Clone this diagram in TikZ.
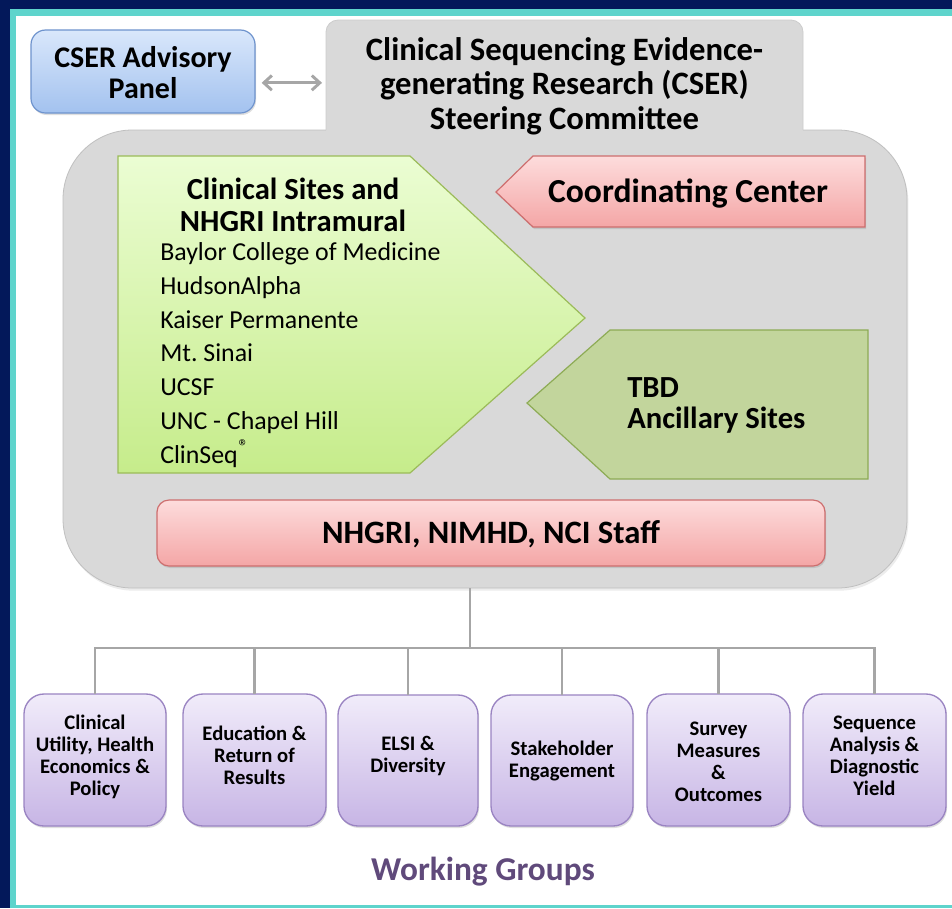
\documentclass[tikz,border=0pt]{standalone}
\usepackage{fontspec}
\setmainfont{Carlito}
\usetikzlibrary{fit,shadows,arrows.meta}
\frenchspacing

\definecolor{navy}{HTML}{03185A}
\definecolor{tealline}{HTML}{5ED4CC}
\definecolor{panelgrey}{HTML}{D9D9D9}
\definecolor{bluetop}{HTML}{D9E7FB}
\definecolor{bluebot}{HTML}{A3C2EF}
\definecolor{blueedge}{HTML}{6E93CD}
\definecolor{greentop}{HTML}{EBFDD3}
\definecolor{greenbot}{HTML}{C6EC8B}
\definecolor{greenedge}{HTML}{9BBB59}
\definecolor{pinktop}{HTML}{FDDCDC}
\definecolor{pinkbot}{HTML}{F4A6A6}
\definecolor{pinkedge}{HTML}{CD6E6E}
\definecolor{olivefill}{HTML}{C2D59C}
\definecolor{oliveedge}{HTML}{8DAB55}
\definecolor{lilactop}{HTML}{F1ECFA}
\definecolor{lilacbot}{HTML}{C7B5E5}
\definecolor{lilacedge}{HTML}{9A84C2}
\definecolor{linkgrey}{HTML}{A6A6A6}
\definecolor{wgpurple}{HTML}{604A7B}

\tikzset{
  frame/.style={fit={#1}, inner sep=0pt, outer sep=0pt},
  label text/.style={align=center, inner sep=0pt},
  softshadow/.style={drop shadow={opacity=0.25, shadow xshift=0.8pt, shadow yshift=-1.5pt}},
  advbox/.style={rounded corners=11pt, top color=bluetop, bottom color=bluebot,
    draw=blueedge, line width=0.9pt, softshadow},
  steerbox/.style={rounded corners=9pt, fill=panelgrey},
  steeredge/.style={draw=gray!40, line width=0.6pt, rounded corners=9pt},
  panelbox/.style={rounded corners=52pt, fill=panelgrey, draw=gray!50, line width=0.6pt,
    drop shadow={opacity=0.15, shadow xshift=1pt, shadow yshift=-2pt}},
  greenshape/.style={top color=greentop, bottom color=greenbot, draw=greenedge, line width=0.9pt},
  pinkshape/.style={top color=pinktop, bottom color=pinkbot, draw=pinkedge, line width=0.9pt, softshadow},
  oliveshape/.style={fill=olivefill, draw=oliveedge, line width=0.9pt},
  staffbox/.style={rounded corners=9pt, top color=pinktop, bottom color=pinkbot,
    draw=pinkedge, line width=0.9pt, softshadow},
  wgbox/.style={rounded corners=15pt, top color=lilactop, bottom color=lilacbot,
    draw=lilacedge, line width=1pt, softshadow},
  wgtext/.style={label text, font=\bfseries\fontsize{15.5}{16.5}\selectfont},
  conn/.style={draw=linkgrey, line width=2.2pt},
  sitetext/.style={anchor=west, inner sep=0pt, font=\fontsize{19.4}{22}\selectfont,
    text height=0.7em, text depth=0.2em},
}

\begin{document}
\begin{tikzpicture}[x=0.75pt, y=-0.75pt]
  \useasboundingbox (0,0) rectangle (952,908);

  % slide frame
  \fill[navy] (0,0) rectangle (952,908);
  \fill[tealline] (10,9) rectangle (952,908);
  \fill[white] (16,16) rectangle (952,905);

  % the grey programme panel and the steering committee tab above it
  \node[frame={(63,130)(907,588)}, panelbox] (panel) {};
  \node[frame={(326,20)(803,149)}, steerbox] (steer) {};
  \draw[steeredge] (steer.west |- panel.north) -- (steer.north west)
    -- (steer.north east) -- (steer.east |- panel.north);
  \node[label text, font=\bfseries\fontsize{24.5}{25.9}\selectfont] (steertext) at (564.5,86)
    {Clinical Sequencing Evidence-\\generating Research (CSER)\\Steering Committee};

  % advisory panel
  \node[frame={(31,30)(255,113)}, advbox] (adv) {};
  \node[label text, font=\bfseries\fontsize{22.5}{23.25}\selectfont] (advtext) at (143,73)
    {CSER Advisory\\Panel};
  \draw[conn, {Straight Barb[length=6pt,width=11pt]}-{Straight Barb[length=6pt,width=11pt]}]
    ([xshift=5pt,yshift=-8.5pt]adv.east) -- ([xshift=-3pt,yshift=-8.5pt]adv.east -| steer.west);

  % clinical sites (arrow pointing right)
  \path[greenshape] (118,156) -- (410,156) -- (585,318) -- (410,473) -- (118,473) -- cycle;
  \node[label text, font=\bfseries\fontsize{23}{24}\selectfont] (sites) at (293,205)
    {Clinical Sites and\\NHGRI Intramural};
  \foreach \name [count=\i from 0] in {Baylor College of Medicine, HudsonAlpha,
      Kaiser Permanente, Mt. Sinai, UCSF, UNC - Chapel Hill,
      ClinSeq\textsuperscript{\kern0.5pt\fontsize{15}{15}\selectfont®}} {
    \node[sitetext] (site\i) at (160,{257+33.83*\i}) {\name};
  }

  % coordinating centre (arrow pointing left)
  \path[pinkshape] (496,192) -- (533,156) -- (865,156) -- (865,227) -- (533,227) -- cycle;
  \node[font=\bfseries\fontsize{25.2}{28}\selectfont] (cc) at (688,194) {Coordinating Center};

  % ancillary sites (arrow pointing left)
  \path[oliveshape] (527,403) -- (610,330) -- (868,330) -- (868,479) -- (610,479) -- cycle;
  \node[anchor=west, align=left, inner sep=0pt, font=\bfseries\fontsize{23}{23.25}\selectfont]
    (tbd) at (627,405) {TBD\\Ancillary Sites};

  % institute staff
  \node[frame={(157,500)(825,566)}, staffbox] (staff) {};
  \node[label text, font=\bfseries\fontsize{24.5}{26}\selectfont] (stafftext) at (491,534)
    {NHGRI, NIMHD, NCI Staff};

  % working groups
  \node[frame={(24,694)(166,826)}, wgbox] (wg1) {};
  \node[frame={(183,694)(326,826)}, wgbox] (wg2) {};
  \node[frame={(338,695)(478,826)}, wgbox] (wg3) {};
  \node[frame={(491,695)(633,826)}, wgbox] (wg4) {};
  \node[frame={(647,694)(790,826)}, wgbox] (wg5) {};
  \node[frame={(803,694)(946,826)}, wgbox] (wg6) {};
  \node[wgtext] (wgt1) at ([yshift=2.6pt]wg1.center) {Clinical\\Utility, Health\\Economics \&\\Policy};
  \node[wgtext] (wgt2) at ([yshift=3.4pt]wg2.center) {Education \&\\Return of\\Results};
  \node[wgtext] (wgt3) at ([yshift=3.4pt]wg3.center) {ELSI \&\\Diversity};
  \node[wgtext] (wgt4) at ([yshift=-0.4pt]wg4.center) {Stakeholder\\Engagement};
  \node[wgtext] (wgt5) at ([yshift=-1.5pt]wg5.center) {Survey\\Measures\\\&\\Outcomes};
  \node[wgtext] (wgt6) at ([yshift=3pt]wg6.center) {Sequence\\Analysis \&\\Diagnostic\\Yield};

  % tree from the panel down to the working groups
  \coordinate (hub) at (470,648);
  \draw[conn] (hub |- panel.south) -- (hub);
  \draw[conn, line cap=rect] (wg1.north |- hub) -- (wg6.north |- hub);
  \foreach \k in {1,...,6} {
    \draw[conn] (wg\k.north |- hub) -- (wg\k.north);
  }

  \node[text=wgpurple, font=\bfseries\fontsize{25}{28}\selectfont] (wgtitle) at (483,872)
    {Working Groups};
\end{tikzpicture}
\end{document}
